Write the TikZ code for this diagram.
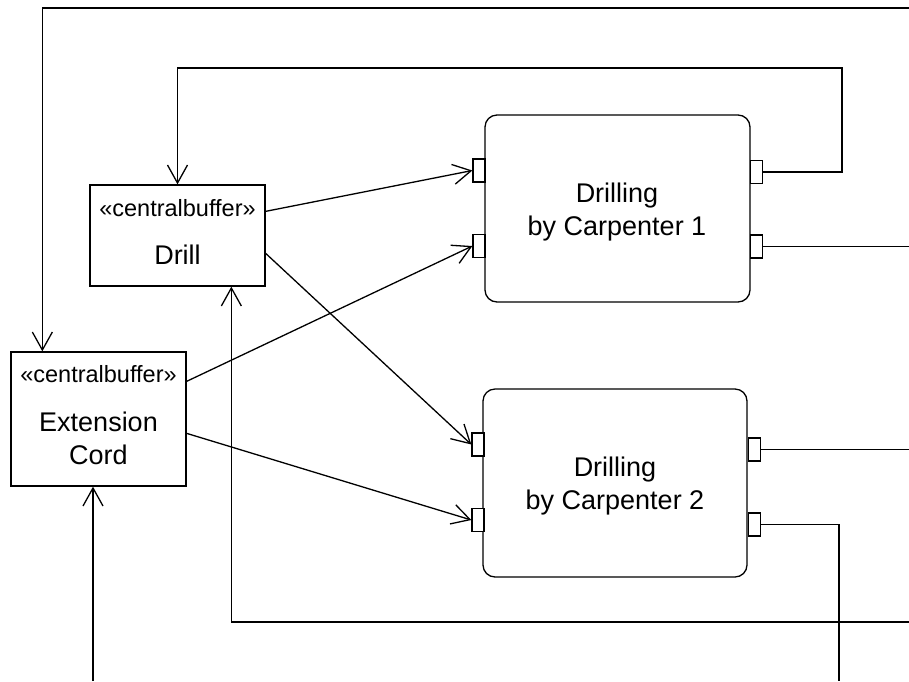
\documentclass[tikz,border=0pt]{standalone}
\usepackage{fontspec}
\setmainfont{Liberation Sans}
\usetikzlibrary{arrows.meta,calc}
\begin{document}
\begin{tikzpicture}[x=1pt,y=-1pt,
  lw/.style={line width=1.3pt},
  buf/.style={draw,lw,rectangle,inner sep=0pt},
  act/.style={draw,lw,rectangle,rounded corners=12pt,inner sep=0pt},
  pin/.style={draw,lw,rectangle,fill=white,inner sep=0pt,minimum width=12pt,minimum height=23pt},
  flow/.style={lw,-{Straight Barb[length=18pt,width=20pt,line width=1.3pt]}},
  line/.style={lw},
  nm/.style={font=\fontsize{27}{33}\selectfont,align=center,inner sep=0pt},
  st/.style={font=\fontsize{23.5}{28}\selectfont,inner sep=0pt}]
\useasboundingbox (0,0) rectangle (909,681);
% boxes
\node[buf,minimum width=175pt,minimum height=101pt] (Drill) at (177.5,235.5) {};
\node[buf,minimum width=175pt,minimum height=134pt] (Ext) at (98.5,419) {};
\node[act,minimum width=265pt,minimum height=187pt] (C1) at (617.5,208.5) {};
\node[act,minimum width=264pt,minimum height=188pt] (C2) at (615,483) {};
% texts
\node[st] (DrillSt) at (177.5,208) {«centralbuffer»};
\node[nm] (DrillNm) at (177.5,255) {Drill};
\node[st] (ExtSt) at (98.5,374) {«centralbuffer»};
\node[nm] (ExtNm) at (98.5,438) {Extension\\Cord};
\node[nm] (C1Nm) at (617,212) {Drilling\\by Carpenter 1};
\node[nm] (C2Nm) at (615,486) {Drilling\\by Carpenter 2};
% pins
\node[pin] (C1lu) at (479,170.5) {};
\node[pin] (C1ll) at (479,246) {};
\node[pin] (C1ru) at (756.5,172) {};
\node[pin] (C1rl) at (756.5,246.5) {};
\node[pin] (C2lu) at (478,444.5) {};
\node[pin] (C2ll) at (478,520) {};
\node[pin] (C2ru) at (754.5,449.5) {};
\node[pin] (C2rl) at (754.5,524.5) {};
% free ends
\coordinate (topR) at (909,8);
\coordinate (loopC) at (842,68);
\coordinate (rEdge) at (909,0);
\coordinate (botR) at (909,622);
\coordinate (downC) at (839,681);
\coordinate (botL) at (93,681);
% object flows
\draw[flow] ($(Drill.north east)+(0,27)$) -- (C1lu.west);
\draw[flow] ($(Drill.north east)+(0,69)$) -- (C2lu.west);
\draw[flow] ($(Ext.north east)+(0,30)$) -- (C1ll.west);
\draw[flow] ($(Ext.north east)+(0,82)$) -- (C2ll.west);
\draw[flow] (topR) -| ($(Ext.north west)+(32,0)$);
\draw[flow] (C1ru.east) -| (loopC) -| (Drill.north);
\draw[flow] (botR) -| ($(Drill.south west)+(142,0)$);
\draw[flow] (botL) -- (botL |- Ext.south);
\draw[line] (C1rl.east) -- (C1rl.east -| rEdge);
\draw[line] (C2ru.east) -- (C2ru.east -| rEdge);
\draw[line] (C2rl.east) -| (downC);
\end{tikzpicture}
\end{document}
